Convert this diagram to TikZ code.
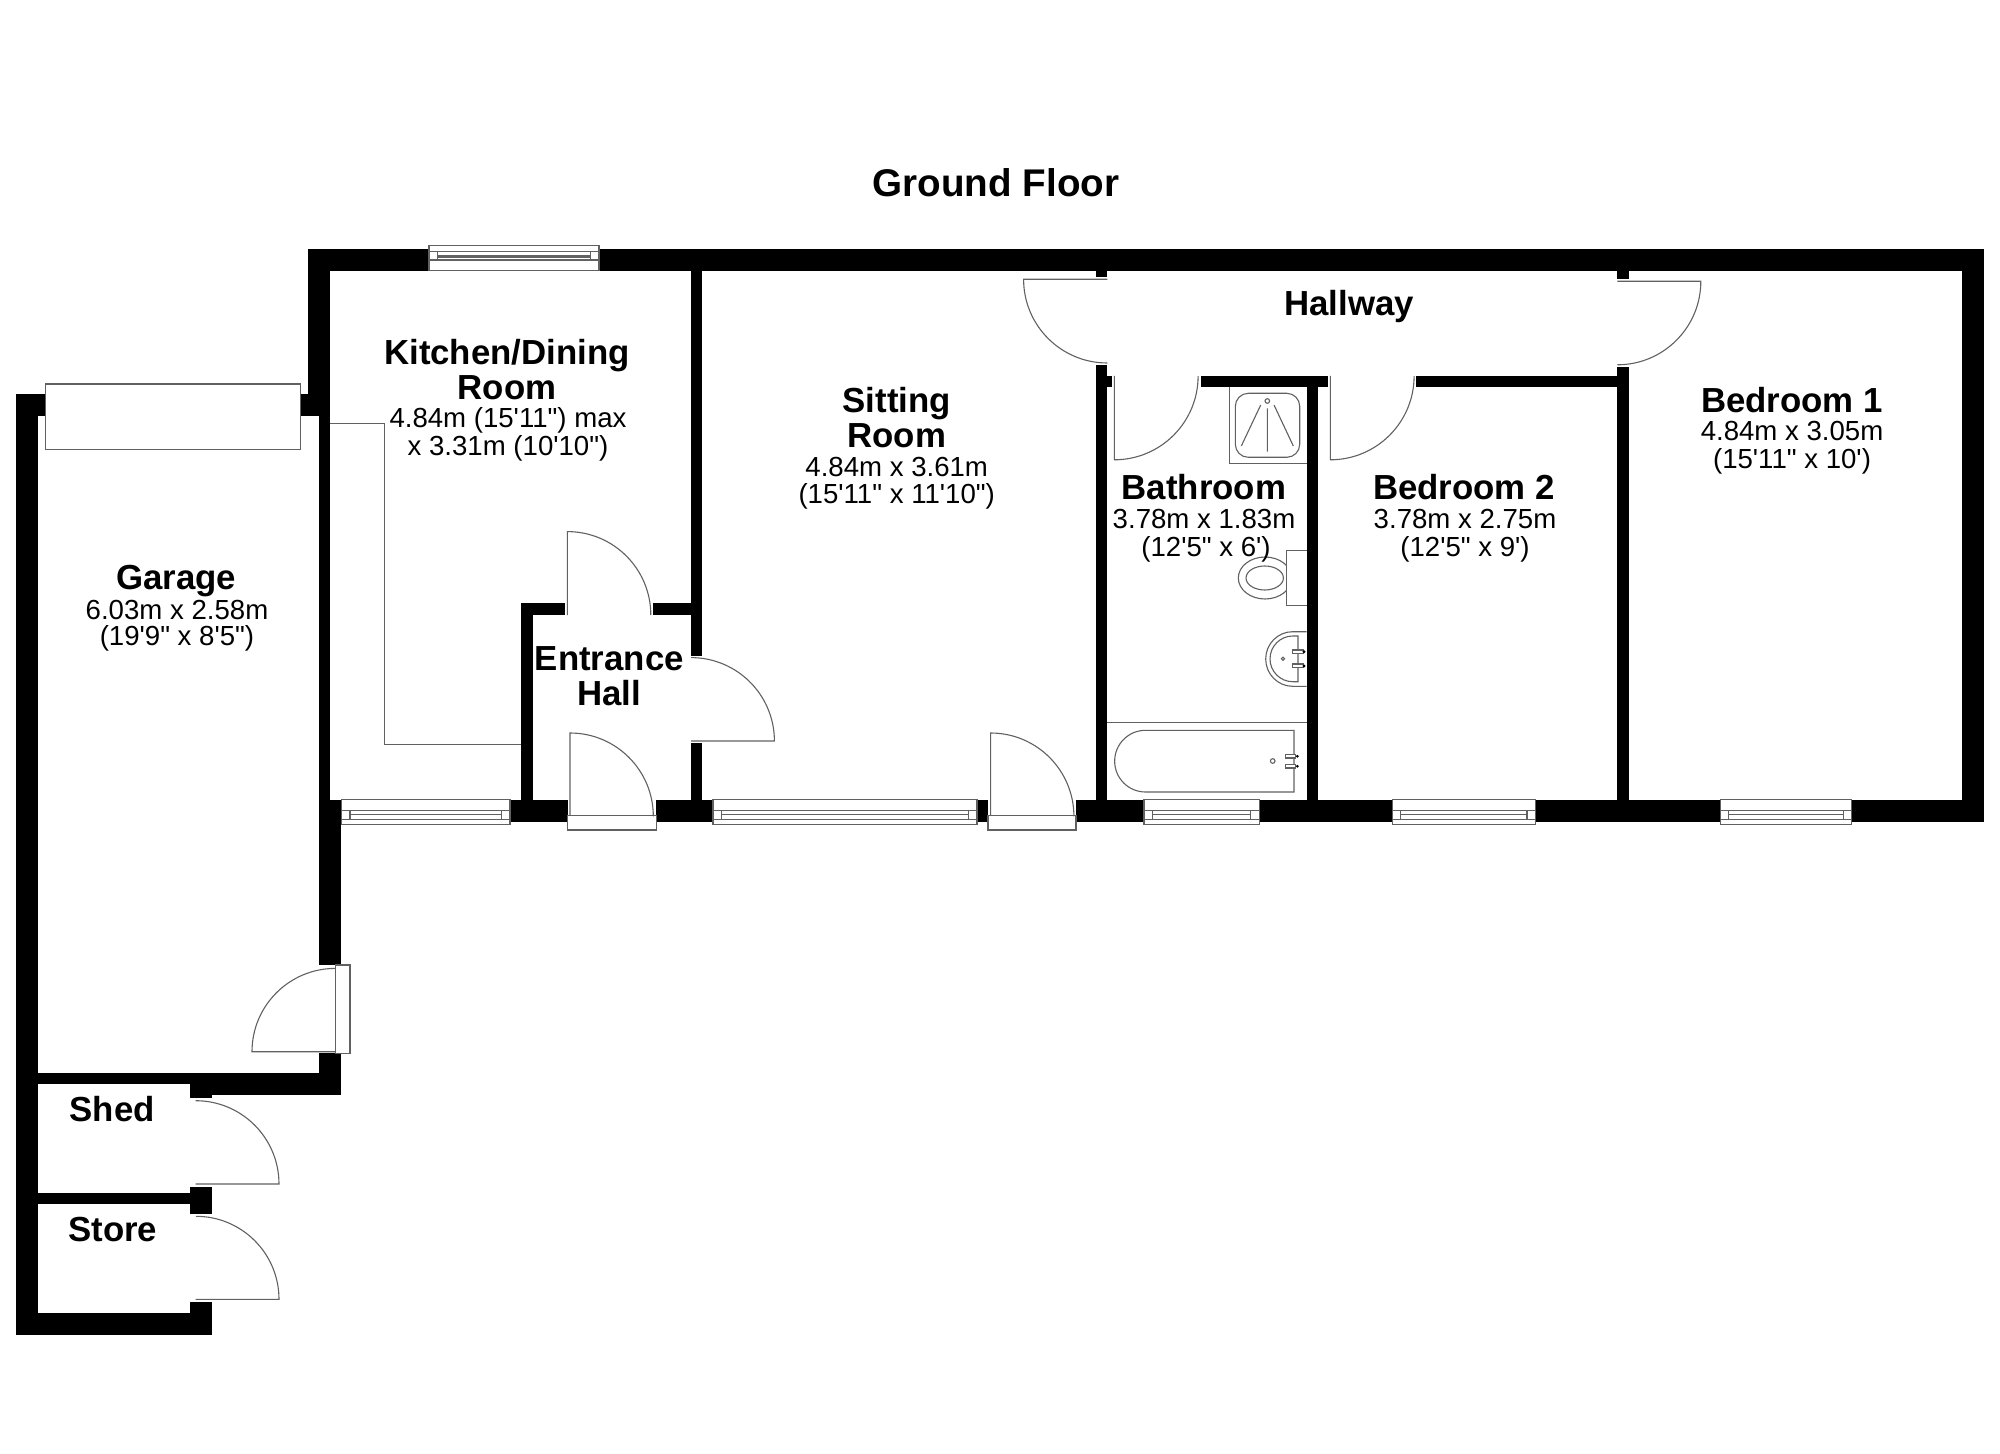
\documentclass[tikz,border=0pt]{standalone}
\usepackage{fontspec}
\setmainfont{Liberation Sans}
\newfontfamily\planfont{Liberation Sans}
\newcommand{\wl}[4]{\fill[black] (#1,#2) rectangle (#3,#4);}
\newcommand{\winb}[2]{%
  \draw[fix,fill=white] (#1,799.5) rectangle (#2,824.5);
  \pgfmathsetmacro{\wa}{#1+8.5}\pgfmathsetmacro{\wb}{#2-8.5}
  \draw[fix] (#1,810.4) -- (#2,810.4) (\wa,814.3) -- (\wb,814.3) (#1,819.4) -- (#2,819.4) (\wa,810.4) -- (\wa,819.4) (\wb,810.4) -- (\wb,819.4);}
\newcommand{\doorbox}[2]{\draw[fix,fill=white] (#1,815.3) rectangle (#2,830);}
\tikzset{
  fix/.style={draw=black!62,line width=0.55pt},
  rname/.style={anchor=base,inner sep=0pt,font=\planfont\bfseries\fontsize{17.4}{18}\selectfont},
  rdim/.style={anchor=base,inner sep=0pt,font=\planfont\fontsize{13.8}{14}\selectfont},
}
\begin{document}
\begin{tikzpicture}[x=0.5pt,y=-0.5pt]
\useasboundingbox[fill=white] (0,0) rectangle (2000,1454);
% walls
\wl{308}{249}{429}{271.5}
\wl{599}{249}{1984}{271.5}
\wl{308}{249}{330}{415.8}
\wl{16}{393.7}{45.5}{415.8}
\wl{300}{393.7}{330}{415.8}
\wl{16}{393.7}{38}{1335}
\wl{319}{415.8}{330}{799.5}
\wl{319}{799.5}{341}{965}
\wl{319}{1053.3}{341}{1095}
\wl{190}{1073.3}{341}{1095}
\wl{38}{1073.3}{190}{1084.3}
\wl{190}{1090}{212.3}{1098.3}
\wl{38}{1193}{190}{1204.3}
\wl{190}{1186.7}{212.3}{1214}
\wl{16}{1313}{212.3}{1335}
\wl{190}{1302}{212.3}{1335}
\wl{521}{603.3}{532.5}{799.5}
\wl{521}{603.3}{565}{615}
\wl{652.7}{603.3}{702.4}{615}
\wl{691}{271}{702.4}{655.7}
\wl{691}{743.3}{702.4}{799.5}
\wl{510}{799.5}{567.7}{821.5}
\wl{656}{799.5}{713}{821.5}
\wl{977}{799.5}{988}{821.5}
\wl{1076}{799.5}{1144}{821.5}
\wl{1259.3}{799.5}{1392.3}{821.5}
\wl{1535.5}{799.5}{1720.3}{821.5}
\wl{1851.7}{799.5}{1984}{821.5}
\wl{1961.5}{249}{1984}{821.5}
\wl{1096}{271}{1107.3}{277.3}
\wl{1096}{365}{1107.3}{799.5}
\wl{1107.3}{376}{1112}{387.3}
\wl{1200.7}{376}{1328}{387.3}
\wl{1306.5}{376}{1318}{799.5}
\wl{1416.3}{376}{1628.7}{387.3}
\wl{1617.3}{271}{1628.7}{279.4}
\wl{1617.3}{367.4}{1628.7}{799.5}
% windows
\draw[fix,fill=white] (429,245.6) rectangle (599,270.7);
\draw[fix] (429,251.3) -- (599,251.3) (437.4,255.7) -- (590.2,255.7) (437.4,257) -- (590.2,257) (429,260) -- (599,260) (437.4,251.3) -- (437.4,260) (590.2,251.3) -- (590.2,260);
\winb{341.5}{510}
\winb{713}{977}
\winb{1144}{1259.3}
\winb{1392.3}{1535.5}
\winb{1720.3}{1851.7}
% doors
\draw[fix,fill=white] (45.5,384) rectangle (300.4,449.3);
\doorbox{567.7}{656.3}
\doorbox{988}{1076}
\draw[fix,fill=white] (335.3,965) rectangle (350,1053.3);
\draw[fix] (567.4,615) -- (567.4,531.6) arc[start angle=270,end angle=360,radius=83.4];
\draw[fix] (691,741) -- (774.4,741) arc[start angle=0,end angle=-90,radius=83.4];
\draw[fix] (570,815.3) -- (570,733) arc[start angle=270,end angle=360,radius=83.3];
\draw[fix] (990.6,815.3) -- (990.6,733) arc[start angle=270,end angle=360,radius=83.3];
\draw[fix] (1107.3,279.3) -- (1023.6,279.3) arc[start angle=180,end angle=90,radius=83.7];
\draw[fix] (1114.3,376) -- (1114.3,459.8) arc[start angle=90,end angle=0,radius=83.8];
\draw[fix] (1330.3,376) -- (1330.3,459.8) arc[start angle=90,end angle=0,radius=83.8];
\draw[fix] (1617.3,281.3) -- (1700.8,281.3) arc[start angle=0,end angle=90,radius=83.5];
\draw[fix] (335.3,1051.7) -- (252,1051.7) arc[start angle=180,end angle=270,radius=83.3];
\draw[fix] (195.7,1184) -- (279,1184) arc[start angle=0,end angle=-90,radius=83.3];
\draw[fix] (195.7,1299.3) -- (279,1299.3) arc[start angle=0,end angle=-90,radius=83];
% kitchen units
\draw[fix] (330,423.8) -- (384.4,423.8) -- (384.4,744.8) -- (521,744.8);
% shower
\draw[fix] (1229.3,387.3) -- (1229.3,463.3) -- (1306.5,463.3);
\draw[fix,rounded corners=6.5pt] (1235.3,393.3) rectangle (1299.7,457.3);
\draw[fix] (1267.3,401) circle[radius=2.3];
\draw[fix] (1267.3,408.3) -- (1267.3,451.7) (1260.7,405) -- (1241.3,446) (1274,405) -- (1293.3,446);
% toilet
\draw[fix] (1306.5,550.7) -- (1286.7,550.7) -- (1286.7,605.3) -- (1306.5,605.3);
\begin{scope}
\clip (1200,540) rectangle (1286.7,620);
\draw[fix] (1265,578) ellipse[x radius=26.7,y radius=21];
\end{scope}
\draw[fix] (1264.7,578) ellipse[x radius=18.7,y radius=12];
% basin
\draw[fix] (1306.5,631.7) -- (1292.7,631.7) arc[start angle=270,end angle=90,x radius=27,y radius=27.3] -- (1306.5,686.3);
\draw[fix] (1298,636) -- (1292.8,636) arc[start angle=270,end angle=90,x radius=22.8,y radius=22.85] -- (1298,681.7) -- cycle;
\draw[fix,fill=white] (1292.3,650) rectangle (1303.3,653.3);
\draw[fix,fill=white] (1292.3,664) rectangle (1303.3,667.7);
\fill[black] (1304,651.7) circle[radius=1.6] (1304,666) circle[radius=1.6];
\draw[fix] (1283,658.7) circle[radius=1.6];
% bath
\draw[fix] (1107.3,722.7) -- (1306.5,722.7);
\draw[fix] (1145.5,730.3) -- (1294,730.3) -- (1294,792) -- (1145.5,792) arc[start angle=90,end angle=270,radius=30.85] -- cycle;
\draw[fix] (1272.7,761) circle[radius=2.3];
\draw[fix,fill=white] (1285.7,754.7) rectangle (1295.3,758);
\draw[fix,fill=white] (1285.7,764.3) rectangle (1295.3,768);
\fill[black] (1297.3,756.3) circle[radius=1.5] (1297.3,766.3) circle[radius=1.5];
% labels
\node[anchor=base,inner sep=0pt,font=\planfont\bfseries\fontsize{19.3}{20}\selectfont] (title) at (996,196.5) {Ground Floor};
\node[rname] (kit1) at (507,364.4) {Kitchen/Dining};
\node[rname] (kit2) at (507,399.2) {Room};
\node[rdim] (kit3) at (508,427.7) {4.84m (15'11") max};
\node[rdim] (kit4) at (508,455.4) {x 3.31m (10'10")};
\node[rname] (gar1) at (176.3,589.8) {Garage};
\node[rdim] (gar2) at (177,619.5) {6.03m x 2.58m};
\node[rdim] (gar3) at (177,645) {(19'9" x 8'5")};
\node[rname] (ent1) at (609.3,670) {Entrance};
\node[rname] (ent2) at (609.3,705.3) {Hall};
\node[rname] (sit1) at (896.7,412.7) {Sitting};
\node[rname] (sit2) at (896.7,447.7) {Room};
\node[rdim] (sit3) at (896.7,476.7) {4.84m x 3.61m};
\node[rdim] (sit4) at (896.7,503.3) {(15'11" x 11'10")};
\node[rname] (hal) at (1349.3,316) {Hallway};
\node[rname] (bat1) at (1204,499.3) {Bathroom};
\node[rdim] (bat2) at (1204,528.3) {3.78m x 1.83m};
\node[rdim] (bat3) at (1206,556) {(12'5" x 6')};
\node[rname] (bd21) at (1464,499.3) {Bedroom 2};
\node[rdim] (bd22) at (1465,528.3) {3.78m x 2.75m};
\node[rdim] (bd23) at (1465,556) {(12'5" x 9')};
\node[rname] (bd11) at (1792,413) {Bedroom 1};
\node[rdim] (bd12) at (1792,441) {4.84m x 3.05m};
\node[rdim] (bd13) at (1792,468.5) {(15'11" x 10')};
\node[rname] (shed) at (112.3,1121) {Shed};
\node[rname] (store) at (112.7,1241) {Store};
\end{tikzpicture}
\end{document}
